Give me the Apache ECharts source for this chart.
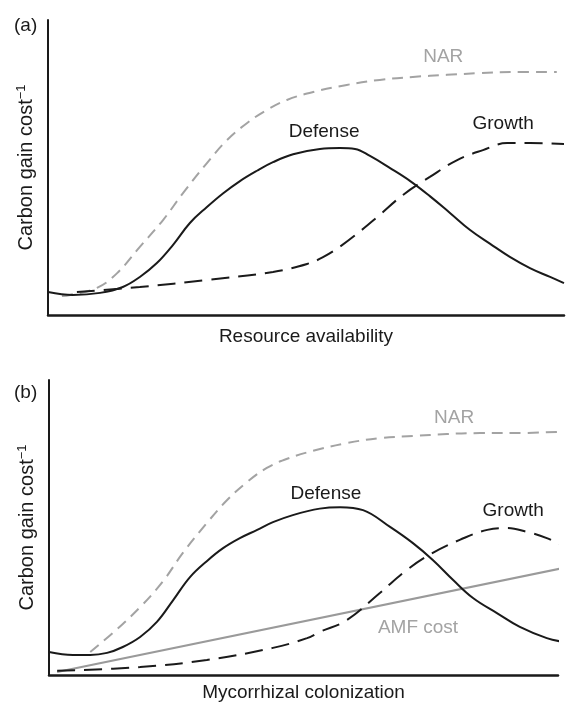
<!DOCTYPE html>
<html>
<head>
<meta charset="utf-8">
<script src="https://cdn.jsdelivr.net/npm/echarts@6/dist/echarts.min.js"></script>
<style>
  html, body { margin: 0; padding: 0; background: #fff; }
  #chart { width: 574px; height: 704px; }
</style>
</head>
<body>
<div id="chart"></div>
<script>
// Panel (a): carbon gain per cost along resource availability (relative units 0-100)
const narA = [[2.7,6.4],[4.3,6.8],[9.5,9.2],[13.4,14.2],[17.8,23.1],[22.3,32.2],[26.2,41.4],[30.8,51.5],[34.7,59.3],[38.6,65.1],[42.4,69.5],[46.3,72.9],[51.4,75.6],[57.9,78.0],[64.3,79.7],[70.7,80.7],[77.3,81.4],[83.7,82.0],[90.1,82.4],[98.6,82.4]];
const defenseA = [[0,7.8],[4.8,6.8],[10.1,7.5],[14.5,9.5],[17.8,12.9],[21.1,17.6],[24.2,23.7],[27.5,31.2],[30.8,36.6],[33.9,41.2],[37.2,45.4],[40.5,48.9],[43.6,51.8],[47.5,54.5],[52.7,56.3],[56.6,56.6],[59.5,56.3],[62.4,53.9],[66.3,49.8],[70.2,45.4],[74.0,40.3],[77.9,34.6],[81.8,28.8],[85.7,24.1],[89.5,19.7],[93.4,15.9],[97.3,12.9],[100,10.8]];
const growthA = [[5.6,7.8],[17.8,9.5],[30.8,11.9],[43.6,14.6],[50.2,17.3],[53.3,19.6],[56.6,23.2],[60.5,28.4],[63.8,33.2],[68.8,40.7],[74.0,46.8],[79.3,52.5],[84.3,55.9],[89.0,58.3],[93.4,58.3],[100,58.0]];

// Panel (b): carbon gain per cost along mycorrhizal colonization
const narB = [[8.1,7.8],[13.0,15.0],[17.9,23.0],[22.4,31.8],[26.3,41.4],[31.0,51.5],[35.0,59.3],[38.9,65.4],[42.8,70.2],[46.8,73.3],[51.9,76.0],[58.5,78.6],[65.0,80.3],[71.5,81.0],[78.2,81.7],[84.7,82.0],[91.2,82.0],[99.8,82.4]];
const defenseB = [[0,7.8],[4.7,6.8],[8.1,6.8],[11.4,7.5],[14.5,9.5],[17.9,12.9],[21.2,18.0],[24.4,25.4],[27.7,33.2],[31.0,38.6],[34.2,43.0],[37.5,46.4],[40.9,49.2],[44.0,51.8],[47.9,54.2],[53.2,56.4],[57.2,56.9],[61.7,55.9],[67.0,50.2],[71.5,44.7],[75.4,39.0],[79.4,32.2],[83.3,26.1],[88.0,21.0],[92.5,16.3],[97.8,12.5],[101.2,11.2]];
const growthB = [[1.6,1.4],[17.9,2.7],[31.0,5.1],[44.0,9.2],[50.7,12.5],[53.2,14.6],[58.5,18.6],[65.0,27.8],[70.3,35.6],[75.4,41.4],[80.7,45.8],[86.1,49.2],[90.0,49.8],[93.9,48.5],[97.8,46.4],[101.4,43.4]];
const amfCostB = [[1.6,1.0],[103.1,37.0]];

// Curve labels: [text, x, y] in the same relative units
const labelsA = [['NAR',76.6,87.5],['Defense',53.5,62.0],['Growth',88.2,64.7]];
const labelsB = [['NAR',79.6,87.1],['Defense',54.4,61.4],['Growth',91.2,55.6],['AMF cost',72.5,15.9]];

const panelTags = ['(a)', '(b)'];
const xTitles = ['Resource availability', 'Mycorrhizal colonization'];
const yTitle = 'Carbon gain cost{sup|\u22121}';

const FONT = '"Liberation Sans", Arial, Helvetica, sans-serif';
const BLACK = '#1a1a1a';
const GREY = '#a3a3a3';
const LABEL_COLORS = { 'NAR': GREY, 'AMF cost': GREY, 'Defense': BLACK, 'Growth': BLACK };

const chart = echarts.init(document.getElementById('chart'), null, { renderer: 'canvas' });

function xAxisFor(i, gap) {
  return {
    gridIndex: i, type: 'value', min: 0, max: 100,
    name: xTitles[i], nameLocation: 'middle', nameGap: gap,
    nameTextStyle: { fontFamily: FONT, fontSize: 19, color: BLACK },
    axisLine: { show: true, onZero: false, lineStyle: { color: BLACK, width: 2.5 } },
    axisTick: { show: false }, axisLabel: { show: false }, splitLine: { show: false }
  };
}
function yAxisFor(i) {
  return {
    gridIndex: i, type: 'value', min: 0, max: 100,
    name: yTitle, nameLocation: 'middle', nameGap: 10, nameRotate: 90,
    nameTextStyle: {
      fontFamily: FONT, fontSize: 20, color: BLACK,
      rich: { sup: { fontFamily: FONT, fontSize: 13, color: BLACK, verticalAlign: 'top', padding: [0, 0, 10, 0] } }
    },
    axisLine: { show: true, onZero: false, lineStyle: { color: BLACK, width: 2 } },
    axisTick: { show: false }, axisLabel: { show: false }, splitLine: { show: false }
  };
}
function curve(name, data, i, color, width, dash) {
  return {
    name, type: 'line', xAxisIndex: i, yAxisIndex: i, data,
    smooth: 0.4, showSymbol: false, symbol: 'none', clip: false, silent: true,
    lineStyle: { color, width, type: dash || 'solid', cap: 'butt' }
  };
}
function labelSeries(labels, i) {
  return {
    type: 'scatter', xAxisIndex: i, yAxisIndex: i, silent: true, clip: false,
    symbolSize: 1, itemStyle: { color: 'rgba(255,255,255,0)' },
    data: labels.map(l => ({
      value: [l[1], l[2]], name: l[0],
      label: { show: true, position: 'inside', formatter: l[0],
               fontFamily: FONT, fontSize: 19, color: LABEL_COLORS[l[0]],
               textBorderWidth: 0, textBorderColor: 'transparent', opacity: 1 }
    }))
  };
}

chart.setOption({
  backgroundColor: '#fff',
  animation: false,
  title: [
    { text: panelTags[0], left: 9, top: 11, textStyle: { fontFamily: FONT, fontSize: 19, fontWeight: 'normal', color: BLACK } },
    { text: panelTags[1], left: 9, top: 378, textStyle: { fontFamily: FONT, fontSize: 19, fontWeight: 'normal', color: BLACK } }
  ],
  grid: [
    { left: 48, top: 20, width: 516, height: 295 },
    { left: 49, top: 380, width: 509, height: 295 }
  ],
  xAxis: [xAxisFor(0, 12), xAxisFor(1, 8)],
  yAxis: [yAxisFor(0), yAxisFor(1)],
  series: [
    curve('NAR', narA, 0, GREY, 2, [11, 7]),
    curve('Defense', defenseA, 0, BLACK, 2),
    curve('Growth', growthA, 0, BLACK, 2, [18, 9]),
    labelSeries(labelsA, 0),
    curve('NAR', narB, 1, GREY, 2, [11, 7]),
    curve('AMF cost', amfCostB, 1, '#9a9a9a', 2),
    curve('Defense', defenseB, 1, BLACK, 2),
    curve('Growth', growthB, 1, BLACK, 2, [18, 9]),
    labelSeries(labelsB, 1)
  ]
});
</script>
</body>
</html>
